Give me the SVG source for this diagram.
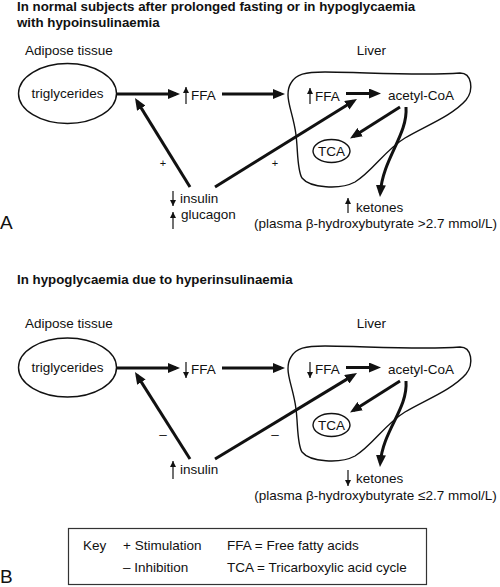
<svg xmlns="http://www.w3.org/2000/svg" width="500" height="587" viewBox="0 0 500 587">
<style>
text{font-family:"Liberation Sans",Arial,Helvetica,sans-serif;font-size:13.5px;fill:#111}
.t{font-weight:bold;font-size:13.3px}
.lab{font-size:19px}
.sg{font-size:11px}
.thick{fill:none;stroke:#111;stroke-width:3;marker-end:url(#ah)}
.thin{fill:none;stroke:#111;stroke-width:1.2;marker-end:url(#sa)}
.outline{fill:none;stroke:#111;stroke-width:1.4}
</style>
<defs>
<marker id="ah" markerUnits="userSpaceOnUse" markerWidth="12" markerHeight="10" refX="8" refY="5" orient="auto"><path d="M0,0 L12,5 L0,10 z" fill="#111"/></marker>
<marker id="sa" markerUnits="userSpaceOnUse" markerWidth="6" markerHeight="6" refX="6" refY="3" orient="auto"><path d="M0,0 L6,3 L0,6 z" fill="#111"/></marker>
<path id="liverShape" d="M 291 83 C 296 74, 305 72, 325 72 C 360 72, 420 76, 460 73 C 472 73, 474 90, 466 100 C 452 116, 425 126, 405 138 C 385 150, 372 172, 355 182 C 340 190, 310 188, 302 178 C 297 170, 298 150, 296 135 C 294 118, 288 105, 288 95 C 288 90, 289 86, 291 83 Z"/>
</defs>
<rect width="500" height="587" fill="#fff"/>

<!-- Panel A -->
<g id="titleA">
<text class="t" x="17" y="11">In normal subjects after prolonged fasting or in hypoglycaemia</text>
<text class="t" x="17" y="27">with hypoinsulinaemia</text>
</g>
<text class="lab" x="0" y="229">A</text>
<g id="adiposeA">
<text x="25" y="55">Adipose tissue</text>
<ellipse class="outline" cx="67.5" cy="93.5" rx="49" ry="30"/>
<text x="67.5" y="98" text-anchor="middle">triglycerides</text>
</g>
<g id="ffaA">
<text x="191" y="100">FFA</text>
</g>
<g id="liverA">
<text x="371.5" y="55" text-anchor="middle">Liver</text>
<use href="#liverShape" class="outline"/>
<text x="315" y="101">FFA</text>
<text x="388" y="100">acetyl-CoA</text>
<ellipse class="outline" cx="331.5" cy="151" rx="18.5" ry="11.5"/>
<text x="331.5" y="156" text-anchor="middle">TCA</text>
</g>
<g id="hormonesA">
<text x="180" y="203">insulin</text>
<text x="181" y="219">glucagon</text>
</g>
<g id="ketonesA">
<text x="356" y="212">ketones</text>
<text x="375.5" y="228" text-anchor="middle">(plasma β-hydroxybutyrate &gt;2.7 mmol/L)</text>
</g>
<g id="connectorsA">
<line class="thick" x1="117" y1="94" x2="176" y2="94"/>
<line class="thick" x1="222" y1="94" x2="281" y2="94"/>
<line class="thick" x1="346" y1="93.5" x2="377" y2="93.5"/>
<line class="thick" x1="190" y1="187" x2="137.1" y2="101.4"/>
<line class="thick" x1="215" y1="187" x2="353.6" y2="101.1"/>
<line class="thick" x1="400" y1="107" x2="353.4" y2="136.4"/>
<path class="thick" d="M406,107 C408,135 383,158 380.3,193"/>
<line class="thin" x1="186" y1="104" x2="186" y2="87"/>
<line class="thin" x1="310" y1="104" x2="310" y2="88"/>
<line class="thin" x1="173" y1="191" x2="173" y2="206"/>
<line class="thin" x1="173" y1="229" x2="173" y2="212"/>
<line class="thin" x1="348" y1="213" x2="348" y2="198"/>
<text class="sg" x="163" y="167" text-anchor="middle">+</text>
<text class="sg" x="275" y="167" text-anchor="middle">+</text>
</g>

<!-- Panel B -->
<g id="titleB">
<text class="t" x="17" y="284">In hypoglycaemia due to hyperinsulinaemia</text>
</g>
<text class="lab" x="0" y="583">B</text>
<g id="adiposeB">
<text x="25" y="328">Adipose tissue</text>
<ellipse class="outline" cx="67.5" cy="367.5" rx="49" ry="29.5"/>
<text x="67.5" y="372" text-anchor="middle">triglycerides</text>
</g>
<g id="ffaB">
<text x="191" y="374">FFA</text>
</g>
<g id="liverB">
<text x="371.5" y="328" text-anchor="middle">Liver</text>
<use href="#liverShape" class="outline" transform="translate(0,274)"/>
<text x="315" y="374">FFA</text>
<text x="388" y="374">acetyl-CoA</text>
<ellipse class="outline" cx="331.5" cy="425" rx="18.5" ry="11.5"/>
<text x="331.5" y="430" text-anchor="middle">TCA</text>
</g>
<g id="hormonesB">
<text x="180" y="474">insulin</text>
</g>
<g id="ketonesB">
<text x="356" y="483">ketones</text>
<text x="375.5" y="500" text-anchor="middle">(plasma β-hydroxybutyrate ≤2.7 mmol/L)</text>
</g>
<g id="connectorsB">
<line class="thick" x1="117" y1="368" x2="176" y2="368"/>
<line class="thick" x1="222" y1="368" x2="281" y2="368"/>
<line class="thick" x1="346" y1="367.5" x2="377" y2="367.5"/>
<line class="thick" x1="190" y1="459" x2="137.1" y2="375.4"/>
<line class="thick" x1="215" y1="459" x2="353.6" y2="375.1"/>
<line class="thick" x1="400" y1="381" x2="353.4" y2="410.4"/>
<path class="thick" d="M406,381 C408,409 383,430 380.3,463"/>
<line class="thin" x1="186" y1="362" x2="186" y2="378"/>
<line class="thin" x1="310" y1="362" x2="310" y2="378"/>
<line class="thin" x1="173" y1="479" x2="173" y2="461"/>
<line class="thin" x1="348" y1="470" x2="348" y2="486"/>
<text x="163" y="439" text-anchor="middle">–</text>
<text x="275" y="439" text-anchor="middle">–</text>
</g>

<!-- Key -->
<g id="key">
<rect x="68.5" y="528.5" width="358" height="56" fill="none" stroke="#333" stroke-width="1.2"/>
<text x="83" y="550">Key</text>
<text x="123" y="550">+ Stimulation</text>
<text x="123" y="572">– Inhibition</text>
<text x="227" y="550">FFA = Free fatty acids</text>
<text x="227" y="572">TCA = Tricarboxylic acid cycle</text>
</g>
</svg>
